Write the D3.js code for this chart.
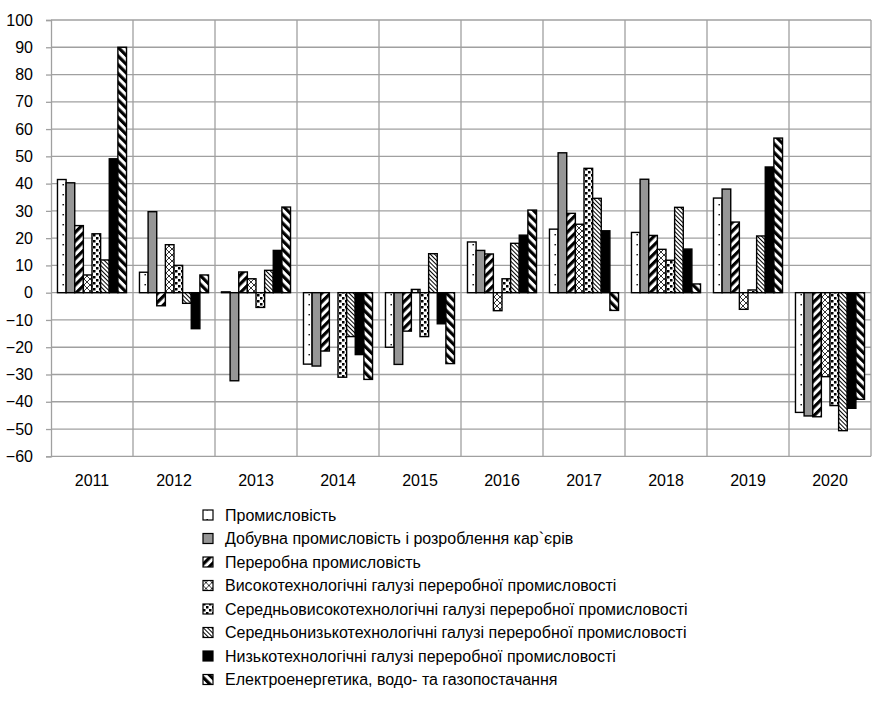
<!DOCTYPE html>
<html>
<head>
<meta charset="utf-8">
<script src="https://cdn.jsdelivr.net/npm/d3@7"></script>
<style>
  html, body { margin: 0; padding: 0; background: #fff; }
  svg { display: block; font-family: "Liberation Sans", Arial, sans-serif; }
</style>
</head>
<body>
<svg id="chart" width="875" height="705"></svg>
<script>
// Years on the category axis
const years = ["2011", "2012", "2013", "2014", "2015", "2016", "2017", "2018", "2019", "2020"];

// Series names (legend order)
const seriesNames = [
  "Промисловість",
  "Добувна промисловість і розроблення кар`єрів",
  "Переробна промисловість",
  "Високотехнологічні галузі переробної промисловості",
  "Середньовисокотехнологічні галузі переробної промисловості",
  "Середньонизькотехнологічні галузі переробної промисловості",
  "Низькотехнологічні галузі переробної промисловості",
  "Електроенергетика, водо- та газопостачання"
];

// Values per series, one per year (%)
const industry      = [41.5, 7.5, 0.3, -26.2, -20.0, 18.6, 23.3, 22.1, 34.7, -43.9];
const mining        = [40.3, 29.7, -32.3, -26.9, -26.3, 15.5, 51.3, 41.6, 38.0, -45.2];
const manufacturing = [24.6, -4.8, 7.6, -21.4, -14.1, 14.2, 29.1, 21.0, 25.9, -45.5];
const highTech      = [6.5, 17.6, 5.1, 0.0, 1.2, -6.6, 25.1, 15.9, -6.1, -30.8];
const medHighTech   = [21.6, 10.0, -5.4, -31.0, -16.1, 5.1, 45.6, 11.9, 1.0, -41.4];
const medLowTech    = [12.0, -3.9, 8.2, -16.1, 14.3, 18.1, 34.6, 31.3, 20.8, -50.6];
const lowTech       = [49.1, -13.2, 15.5, -22.7, -11.4, 21.1, 22.7, 16.0, 46.1, -42.4];
const energy        = [90.0, 6.5, 31.4, -31.8, -26.0, 30.3, -6.5, 3.2, 56.7, -39.1];

const seriesValues = [industry, mining, manufacturing, highTech, medHighTech, medLowTech, lowTech, energy];

// Y axis ticks
const yTicks = [100, 90, 80, 70, 60, 50, 40, 30, 20, 10, 0, -10, -20, -30, -40, -50, -60];

const svg = d3.select("#chart");
const plot = { left: 51, right: 871, top: 20, bottom: 456.3 };

const x0 = d3.scaleBand().domain(years).range([plot.left, plot.right]).padding(0);
const x1 = d3.scaleBand().domain(d3.range(seriesNames.length))
  .range([0, x0.bandwidth()]).paddingInner(0).paddingOuter(0.75);
const y = d3.scaleLinear().domain([-60, 100]).range([plot.bottom, plot.top]);

// Fill patterns for each series
const defs = svg.append("defs");
function stripePattern(id, angle, period, thick) {
  const p = defs.append("pattern").attr("id", id).attr("patternUnits", "userSpaceOnUse")
    .attr("width", period).attr("height", period)
    .attr("patternTransform", `rotate(${angle})`);
  p.append("rect").attr("width", period).attr("height", period).attr("fill", "#fff");
  p.append("rect").attr("width", thick).attr("height", period).attr("fill", "#000");
}
// dotted white
{
  const p = defs.append("pattern").attr("id", "pat0").attr("patternUnits", "userSpaceOnUse")
    .attr("width", 8).attr("height", 10);
  p.append("rect").attr("width", 8).attr("height", 10).attr("fill", "#fff");
  p.append("rect").attr("x", 3.5).attr("y", 4).attr("width", 1.4).attr("height", 1.4).attr("fill", "#000");
}
stripePattern("pat2", 45, 6.2, 3.2);
// trellis
{
  const p = defs.append("pattern").attr("id", "pat3").attr("patternUnits", "userSpaceOnUse")
    .attr("width", 6).attr("height", 6);
  p.append("rect").attr("width", 6).attr("height", 6).attr("fill", "#fff");
  p.append("path").attr("d", "M0,0L6,6M6,0L0,6").attr("stroke", "#000").attr("stroke-width", 0.8);
}
// checker dots
{
  const p = defs.append("pattern").attr("id", "pat4").attr("patternUnits", "userSpaceOnUse")
    .attr("width", 6).attr("height", 6);
  p.append("rect").attr("width", 6).attr("height", 6).attr("fill", "#fff");
  p.append("rect").attr("x", 0).attr("y", 0).attr("width", 2.5).attr("height", 2.5).attr("fill", "#000");
  p.append("rect").attr("x", 3).attr("y", 3).attr("width", 2.5).attr("height", 2.5).attr("fill", "#000");
}
stripePattern("pat5", -45, 3, 1);
stripePattern("pat7", -45, 6.2, 3.2);

const fills = ["url(#pat0)", "#969696", "url(#pat2)", "url(#pat3)", "url(#pat4)", "url(#pat5)", "#000", "url(#pat7)"];

// Gridlines
const grid = svg.append("g");
grid.selectAll("line.h").data(yTicks).join("line")
  .attr("x1", plot.left).attr("x2", plot.right)
  .attr("y1", d => y(d)).attr("y2", d => y(d))
  .attr("stroke", "#a0a0a0").attr("stroke-width", 1.3);
grid.selectAll("line.v").data(years.slice(1).concat(["end"])).join("line")
  .attr("x1", (d, i) => plot.left + x0.step() * (i + 1))
  .attr("x2", (d, i) => plot.left + x0.step() * (i + 1))
  .attr("y1", plot.top).attr("y2", plot.bottom)
  .attr("stroke", "#a0a0a0").attr("stroke-width", 1.3);

// Y axis
const yAxis = svg.append("g").attr("transform", `translate(${plot.left},0)`)
  .call(d3.axisLeft(y).tickValues(yTicks).tickSize(5).tickPadding(13).tickFormat(d3.format("d")));
yAxis.select(".domain").attr("stroke", "#a0a0a0").attr("stroke-width", 1.3);
yAxis.selectAll(".tick line").attr("stroke", "#a0a0a0").attr("stroke-width", 1.3);
yAxis.selectAll("text").attr("font-size", 16).attr("fill", "#000")
  .attr("font-family", "Liberation Sans, Arial, sans-serif");

// Bars
const groups = svg.append("g").selectAll("g").data(years).join("g")
  .attr("transform", d => `translate(${x0(d)},0)`);
groups.selectAll("rect").data((yr, yi) => seriesValues.map((vals, si) => ({ si, v: vals[yi] })))
  .join("rect")
  .attr("x", d => x1(d.si))
  .attr("width", x1.bandwidth())
  .attr("y", d => y(Math.max(0, d.v)))
  .attr("height", d => Math.abs(y(d.v) - y(0)))
  .attr("fill", d => fills[d.si])
  .attr("stroke", "#000").attr("stroke-width", 1.4);

// Category labels
svg.append("g").selectAll("text").data(years).join("text")
  .attr("x", d => x0(d) + x0.bandwidth() / 2)
  .attr("y", 486)
  .attr("text-anchor", "middle")
  .attr("font-size", 16)
  .text(d => d);

// Legend
const legend = svg.append("g").selectAll("g").data(seriesNames).join("g")
  .attr("transform", (d, i) => `translate(203,${515 + i * 23.5})`);
legend.append("rect").attr("x", 0).attr("y", -5).attr("width", 10).attr("height", 10)
  .attr("fill", (d, i) => fills[i]).attr("stroke", "#000").attr("stroke-width", 1.2);
legend.append("text").attr("x", 22).attr("y", 5.5)
  .attr("font-size", 16)
  .text(d => d);
</script>
</body>
</html>
